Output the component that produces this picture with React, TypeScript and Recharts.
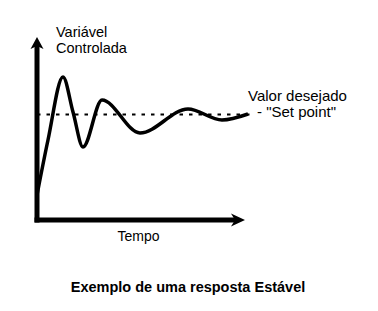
import {
  ComposedChart,
  Line,
  ReferenceDot,
  ReferenceLine,
  XAxis,
  YAxis,
} from "recharts";

// Damped response of the controlled variable (time, value).
const TIME = [0, 11, 26, 36, 46, 65, 103, 151, 185, 211];
const VALUE = [25, 80, 143, 108, 73, 120, 87, 111, 100, 106];
const SET_POINT = 105.5;

const X_MAX = 211;
const Y_MAX = 183;

const data = TIME.map((t, i) => ({ t, v: VALUE[i] }));

const FONT = "'Liberation Sans', Arial, sans-serif";

function ArrowUp(props: any) {
  const { cx, cy } = props;
  return (
    <polygon
      points={`${cx},${cy} ${cx - 6.5},${cy + 12} ${cx},${cy + 9} ${cx + 6.5},${cy + 12}`}
      fill="#000"
    />
  );
}

function ArrowRight(props: any) {
  const { cx, cy } = props;
  return (
    <polygon
      points={`${cx},${cy} ${cx - 14},${cy - 6.5} ${cx - 10},${cy} ${cx - 14},${cy + 6.5}`}
      fill="#000"
    />
  );
}

export default function App() {
  return (
    <div style={{ position: "absolute", left: 0, top: 0, width: 378, height: 311, background: "#fff" }}>
      <ComposedChart
        width={378}
        height={311}
        data={data}
        margin={{ top: 37, right: 130, bottom: 91, left: 37 }}
      >
        <XAxis dataKey="t" type="number" domain={[0, X_MAX]} hide />
        <YAxis type="number" domain={[0, Y_MAX]} hide />
        <ReferenceLine
          segment={[{ x: 0, y: SET_POINT }, { x: 216, y: SET_POINT }]}
          stroke="#000"
          strokeWidth={2}
          strokeDasharray="3.5 6"
          ifOverflow="visible"
        />
        <ReferenceLine
          segment={[{ x: 0, y: -2.5 }, { x: 0, y: 175 }]}
          stroke="#000"
          strokeWidth={5}
          ifOverflow="visible"
        />
        <ReferenceLine
          segment={[{ x: -2.5, y: 0 }, { x: 200, y: 0 }]}
          stroke="#000"
          strokeWidth={5}
          ifOverflow="visible"
        />
        <ReferenceDot x={0} y={Y_MAX} r={1} ifOverflow="visible" shape={ArrowUp} />
        <ReferenceDot x={208} y={0} r={1} ifOverflow="visible" shape={ArrowRight} />
        <Line
          dataKey="v"
          type="monotone"
          stroke="#000"
          strokeWidth={3.5}
          dot={false}
          activeDot={false}
          isAnimationActive={false}
        />
      </ComposedChart>
      <svg
        width={378}
        height={311}
        style={{ position: "absolute", left: 0, top: 0, pointerEvents: "none" }}
      >
        <g fontFamily={FONT} fill="#000">
          <text x={56} y={37} fontSize={14.5}>Variável</text>
          <text x={56} y={53} fontSize={14.5}>Controlada</text>
          <text x={248} y={101} fontSize={15}>Valor desejado</text>
          <text x={257} y={117} fontSize={15}>- "Set point"</text>
          <text x={138.5} y={241} fontSize={14} textAnchor="middle">Tempo</text>
          <text x={188} y={292} fontSize={14.5} fontWeight="bold" textAnchor="middle">
            Exemplo de uma resposta Estável
          </text>
        </g>
      </svg>
    </div>
  );
}
